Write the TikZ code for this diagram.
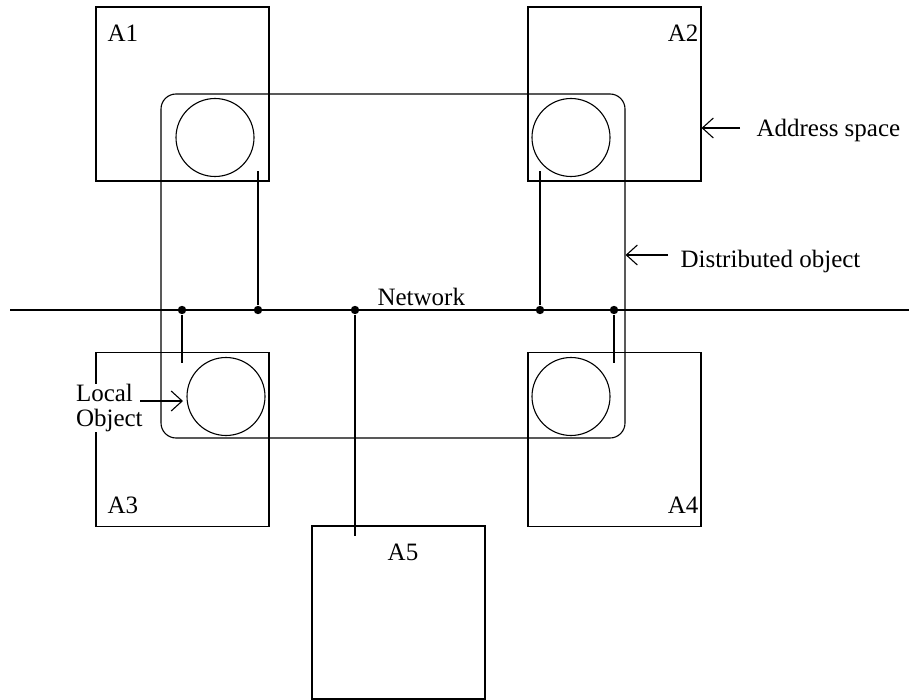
\documentclass[tikz,border=0pt]{standalone}
\usepackage{fontspec}
\setmainfont{Liberation Serif}
\usetikzlibrary{arrows.meta}

\tikzset{
  aspace/.style={rectangle, draw, minimum width=86.5pt, minimum height=87pt, inner sep=0pt},
  lobj/.style={circle, draw, minimum size=39pt, inner sep=0pt},
  dobj/.style={rectangle, draw, rounded corners=7.5pt, minimum width=232pt, minimum height=172pt, inner sep=0pt},
  tap/.style={circle, fill, minimum size=4.2pt, inner sep=0pt},
  pointer/.style={-{Straight Barb[length=5.5pt,width=10pt]}},
}

\begin{document}
\begin{tikzpicture}[x=0.5pt, y=-0.5pt, line width=0.55pt, font=\fontsize{12.5}{12.5}\selectfont]
      \useasboundingbox (0,0) rectangle (909,700);

      % Nodes
      \node (A1box) at (182.5,94) [aspace] {};
      \node (A2box) at (614.5,94) [aspace] {};
      \node (A3box) at (182.5,439.5) [aspace] {};
      \node (A4box) at (614.5,439.5) [aspace] {};
      \node (A5box) at (398.5,612.5) [aspace, minimum height=86.5pt] {};

      \node (distobj) at (393,266) [dobj] {};

      \node (c1) at (215,137.5) [lobj] {};
      \node (c2) at (571,137.5) [lobj] {};
      \node (c3) at (226,396.5) [lobj] {};
      \node (c4) at (571,396.5) [lobj] {};

      \node (A1) at (107,33) [anchor=west, inner sep=0pt] {A1};
      \node (A2) at (699,33) [anchor=east, inner sep=0pt] {A2};
      \node (A3) at (107,505) [anchor=west, inner sep=0pt] {A3};
      \node (A4) at (699,505) [anchor=east, inner sep=0pt] {A4};
      \node (A5) at (403,552) [inner sep=0pt] {A5};

      \coordinate (netL) at (10,310);
      \coordinate (netR) at (909,310);
      \node (net) at (377,305) [anchor=base west, inner sep=0pt] {Network};

      \node (t1) at (182,310) [tap] {};
      \node (t2) at (258,310) [tap] {};
      \node (t3) at (355,310) [tap] {};
      \node (t4) at (540,310) [tap] {};
      \node (t5) at (614,310) [tap] {};

      \coordinate (e1) at (182,363);
      \coordinate (e2) at (258,171);
      \coordinate (e3) at (355,536);
      \coordinate (e4) at (540,171);
      \coordinate (e5) at (614,363);

      \node (addr) at (756,137) [anchor=base west, inner sep=0pt] {Address space};
      \node (dist) at (680,267) [anchor=base west, inner sep=0pt] {Distributed object};
      \node (local) at (76,384) [anchor=north west, align=left, fill=white, inner sep=0pt, outer sep=0pt] {Local\\Object};
      \coordinate (addrtail) at (740,128);
      \coordinate (disttail) at (668,255);
      \coordinate (localtail) at (140,401);

      % Edges
      \draw[line width=1pt] (netL) -- (netR);
      \draw (t1) -- (e1);
      \draw (t2) -- (e2);
      \draw (t3) -- (e3);
      \draw (t4) -- (e4);
      \draw (t5) -- (e5);

      \draw[pointer] (addrtail) -- (A2box.east |- addrtail);
      \draw[pointer] (disttail) -- (distobj.east |- disttail);
      \draw[pointer] (localtail) -- (183,401);
    \end{tikzpicture}
\end{document}
